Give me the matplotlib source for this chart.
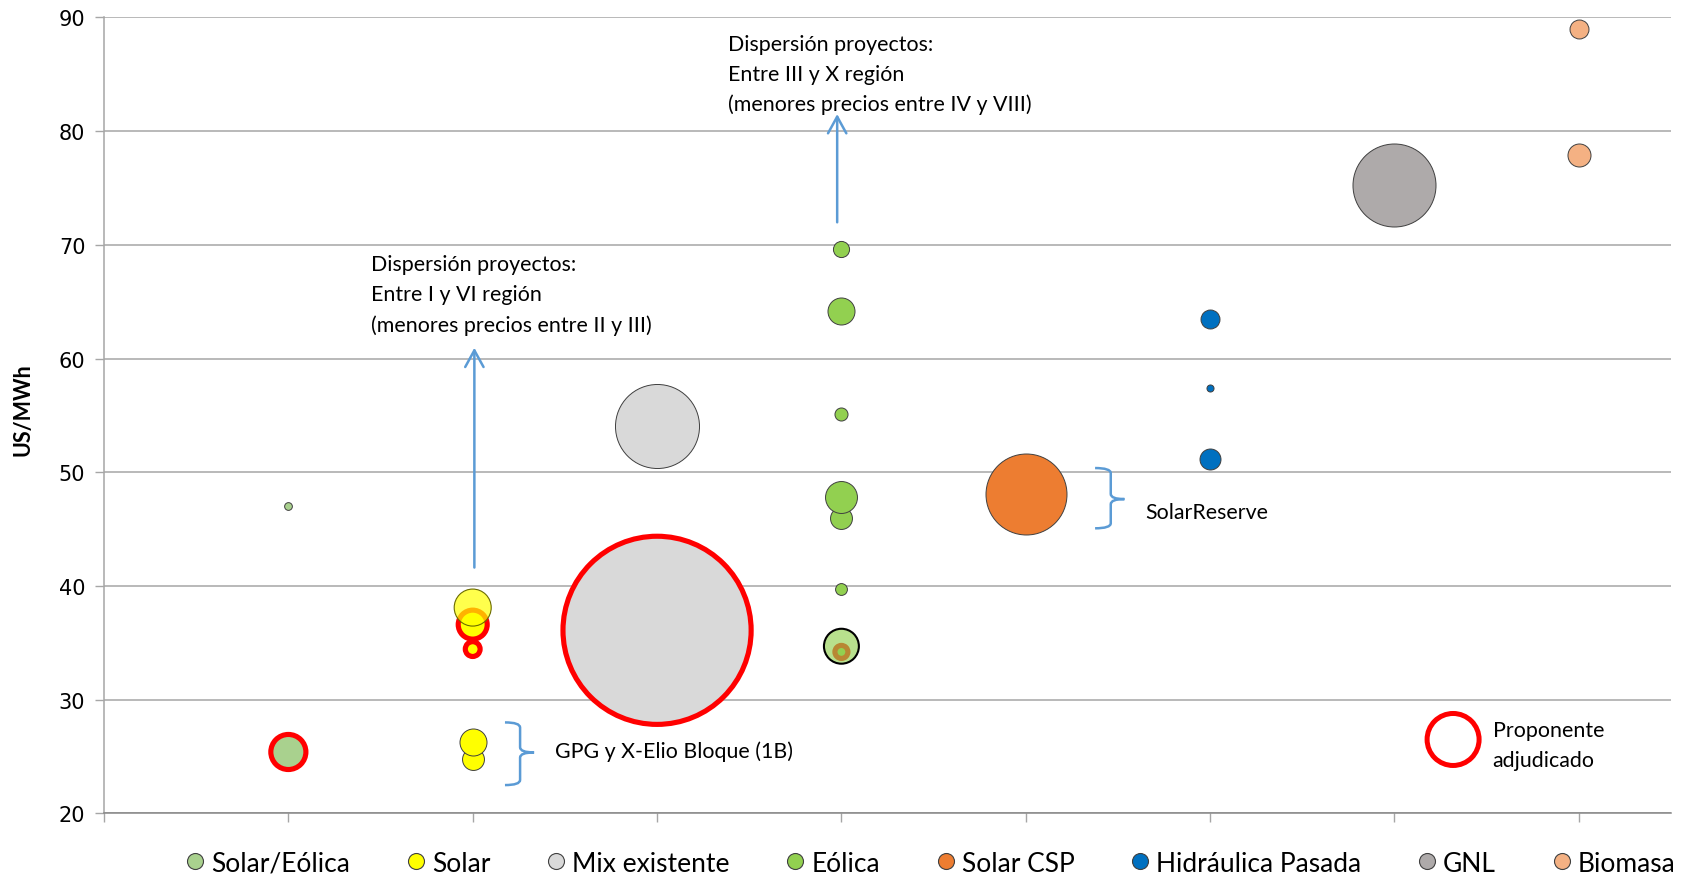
import matplotlib
matplotlib.use('Agg')
import matplotlib.pyplot as plt
from matplotlib.lines import Line2D
from matplotlib.path import Path
from matplotlib.patches import PathPatch

# ---------------- data ----------------
categories = ['Solar/Eólica', 'Solar', 'Mix existente', 'Eólica',
              'Solar CSP', 'Hidráulica Pasada', 'GNL', 'Biomasa']
colors = ['#a9d18e', '#ffff00', '#d9d9d9', '#92d050',
          '#ed7d31', '#0070c0', '#aeaaaa', '#f4b183']

# precios (US/MWh)
solar_eolica_precio = [25.4, 47.0]
solar_precio = [24.8, 26.3, 34.45, 36.6, 38.1]
mix_precio = [36.1, 54.1]
eolica_precio = [34.2, 34.7, 39.7, 46.0, 47.8, 55.1, 64.2, 69.6]
csp_precio = [48.1]
hidro_precio = [51.2, 57.4, 63.5]
gnl_precio = [75.3]
biomasa_precio = [77.9, 89.0]

# tamaño relativo de burbuja
solar_eolica_tam = [123, 6]
solar_tam = [48, 73, 22, 84, 137]
mix_tam = [3540, 706]
eolica_tam = [17, 122, 14, 48, 102, 17, 73, 26]
csp_tam = [656]
hidro_tam = [44, 5, 36]
gnl_tam = [689]
biomasa_tam = [53, 36]

# proponente adjudicado (1 = sí)
solar_eolica_adj = [1, 0]
solar_adj = [0, 0, 1, 1, 0]
mix_adj = [1, 0]
eolica_adj = [1, 0, 0, 0, 0, 0, 0, 0]
csp_adj = [0]
hidro_adj = [0, 0, 0]
gnl_adj = [0]
biomasa_adj = [0, 0]

precios = [solar_eolica_precio, solar_precio, mix_precio, eolica_precio,
           csp_precio, hidro_precio, gnl_precio, biomasa_precio]
tamanos = [solar_eolica_tam, solar_tam, mix_tam, eolica_tam,
           csp_tam, hidro_tam, gnl_tam, biomasa_tam]
adjudicados = [solar_eolica_adj, solar_adj, mix_adj, eolica_adj,
               csp_adj, hidro_adj, gnl_adj, biomasa_adj]

# ---------------- style ----------------
BUBBLE_SCALE = 5.184
TRANSLUCENT = {(1, 4): dict(alpha=0.7, ec='#6b6b00', lw=0.8),
               (3, 1): dict(alpha=0.65, ec='#000000', lw=1.5)}
FONT = 'Lato'
BLUE = '#5b9bd5'

fig = plt.figure(figsize=(16.98, 8.79), dpi=100)
ax = fig.add_axes([0.06125, 0.0735, 0.92285, 0.90557])
ax.set_xlim(0, 8.5)
ax.set_ylim(20, 90)

for i, (pr, tm, adj) in enumerate(zip(precios, tamanos, adjudicados)):
    xpos = i + 1
    for j, (p, t, a) in enumerate(zip(pr, tm, adj)):
        s = t * BUBBLE_SCALE
        if (i, j) in TRANSLUCENT:
            st = TRANSLUCENT[(i, j)]
            ax.scatter([xpos], [p], s=s, color=colors[i], alpha=st['alpha'],
                       edgecolors='none', zorder=5, clip_on=False)
            ax.scatter([xpos], [p], s=s, facecolors='none', edgecolors=st['ec'],
                       linewidths=st['lw'], zorder=5.1, clip_on=False)
        else:
            ax.scatter([xpos], [p], s=s, color=colors[i], edgecolors='#3f3f3f',
                       linewidths=0.7, zorder=3, clip_on=False)
        if a:
            ax.scatter([xpos], [p], s=s, facecolors='none', edgecolors='#ff0000',
                       linewidths=3.7, zorder=4, clip_on=False)

# axes styling
ax.set_yticks(range(20, 91, 10))
ax.set_xticks(range(0, 9))
ax.set_xticklabels([])
ax.yaxis.grid(True, color='#a6a6a6', lw=1.1)
ax.set_axisbelow(True)
for sp in ['top', 'right']:
    ax.spines[sp].set_visible(False)
ax.spines['left'].set_color('#a6a6a6')
ax.spines['left'].set_linewidth(1.1)
ax.spines['bottom'].set_color('#868686')
ax.spines['bottom'].set_linewidth(1.1)
ax.tick_params(axis='both', direction='out', length=6.5, color='#a6a6a6', width=1.0)
ax.tick_params(axis='y', labelsize=15, pad=7)
for lab in ax.get_yticklabels():
    lab.set_fontfamily('DejaVu Sans')
ax.set_ylabel('US/MWh', fontsize=15.5, fontweight='bold', family=FONT)
ax.yaxis.set_label_coords(-0.045, 0.509)

# annotations
arrow_kw = dict(arrowstyle='->,head_length=0.6,head_width=0.33', color=BLUE,
                lw=1.8, shrinkA=0, shrinkB=0, mutation_scale=20)
ax.annotate('', xy=(2.009, 60.95), xytext=(2.009, 41.62), arrowprops=arrow_kw)
ax.annotate('', xy=(3.977, 81.5), xytext=(3.977, 71.98), arrowprops=arrow_kw)

txt_kw = dict(fontsize=15.4, family=FONT, ha='left', va='center', linespacing=1.62)
ax.text(1.4505, 65.62, 'Dispersión proyectos:\nEntre I y VI región\n(menores precios entre II y III)', **txt_kw)
ax.text(3.385, 85.02, 'Dispersión proyectos:\nEntre III y X región\n(menores precios entre IV y VIII)', **txt_kw)
ax.text(2.447, 25.5, 'GPG y X-Elio Bloque (1B)', **txt_kw)
ax.text(5.647, 46.47, 'SolarReserve', **txt_kw)
ax.text(7.533, 26.02, 'Proponente\nadjudicado', **txt_kw)


def brace(x0, x1, x2, ytop, ymid, ybot, r=0.45):
    verts = [(x0, ytop), (x1, ytop), (x1, ytop - r),
             (x1, ymid + r), (x1, ymid), (x2, ymid),
             (x2, ymid), (x1, ymid), (x1, ymid - r),
             (x1, ybot + r), (x1, ybot), (x0, ybot)]
    codes = [Path.MOVETO, Path.CURVE3, Path.CURVE3,
             Path.LINETO, Path.CURVE3, Path.CURVE3,
             Path.MOVETO, Path.CURVE3, Path.CURVE3,
             Path.LINETO, Path.CURVE3, Path.CURVE3]
    ax.add_patch(PathPatch(Path(verts, codes), fill=False, ec=BLUE, lw=1.8,
                           zorder=6, clip_on=False))


brace(2.175, 2.257, 2.333, 28.0, 25.36, 22.49)
brace(5.376, 5.461, 5.535, 50.37, 47.64, 45.07)

ax.scatter([7.318], [26.5], s=(52 * 0.72) ** 2, facecolors='none',
           edgecolors='#ff0000', linewidths=3.6, zorder=6)

# legend
handles = [Line2D([], [], ls='', marker='o', markersize=11.5, markerfacecolor=c,
                  markeredgecolor='#3f3f3f', markeredgewidth=0.8) for c in colors]
fig.legend(handles, categories, loc='center', bbox_to_anchor=(0.5486, 0.017),
           ncol=8, frameon=False, prop={'family': FONT, 'size': 19},
           handlelength=0.6, handletextpad=0.3, columnspacing=2.2,
           borderaxespad=0, borderpad=0)

fig.savefig('out.png', dpi=100)
